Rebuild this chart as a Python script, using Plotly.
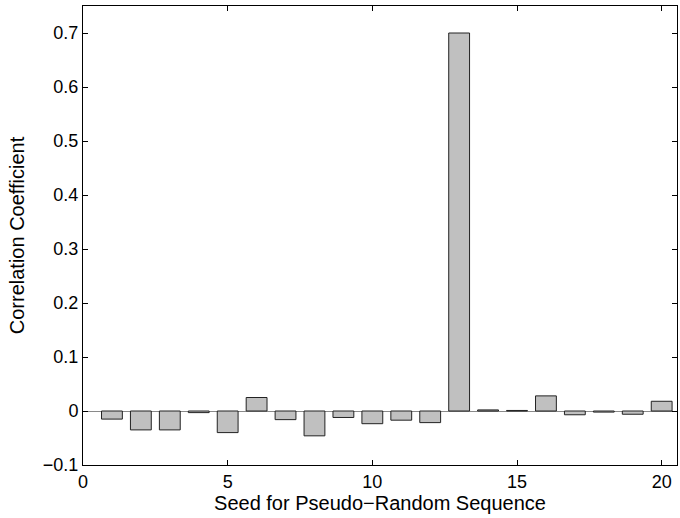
import plotly.graph_objects as go

# Correlation coefficient per seed of the pseudo-random sequence
seeds = list(range(1, 21))
corr = [-0.015, -0.035, -0.035, -0.003, -0.040, 0.025, -0.016, -0.046, -0.012, -0.0235,
        -0.017, -0.0215, 0.700, 0.002, 0.001, 0.028, -0.007, -0.002, -0.006, 0.018]

x_ticks = [0, 5, 10, 15, 20]
y_ticks = [-0.1, 0, 0.1, 0.2, 0.3, 0.4, 0.5, 0.6, 0.7]
y_labels = ["\u22120.1", "0", "0.1", "0.2", "0.3", "0.4", "0.5", "0.6", "0.7"]

font = "Liberation Sans, Arial, Helvetica, sans-serif"
tick_size = 18
title_size = 20

fig = go.Figure(
    go.Bar(
        x=seeds,
        y=corr,
        width=0.72,
        marker=dict(color="#c0c0c0", line=dict(color="#222222", width=1)),
    )
)

axis_common = dict(
    showgrid=False,
    showline=True,
    linecolor="black",
    linewidth=1,
    mirror="ticks",
    ticks="inside",
    ticklen=5,
    tickcolor="black",
    tickfont=dict(family=font, size=tick_size, color="black"),
)

fig.update_xaxes(
    range=[0, 20.53],
    tickvals=x_ticks,
    zeroline=False,
    title=dict(text="Seed for Pseudo\u2212Random Sequence",
               font=dict(family=font, size=title_size, color="black"), standoff=2),
    **axis_common,
)
fig.update_yaxes(
    range=[-0.1, 0.75],
    tickvals=y_ticks,
    ticktext=y_labels,
    zeroline=True,
    zerolinecolor="#8a8a8a",
    zerolinewidth=1,
    title=dict(text="Correlation Coefficient",
               font=dict(family=font, size=title_size, color="black"), standoff=12),
    **axis_common,
)

fig.update_layout(
    width=680,
    height=518,
    margin=dict(l=83, r=3, t=6, b=53, autoexpand=False),
    plot_bgcolor="white",
    paper_bgcolor="white",
    showlegend=False,
)

fig.write_html("out.html")
